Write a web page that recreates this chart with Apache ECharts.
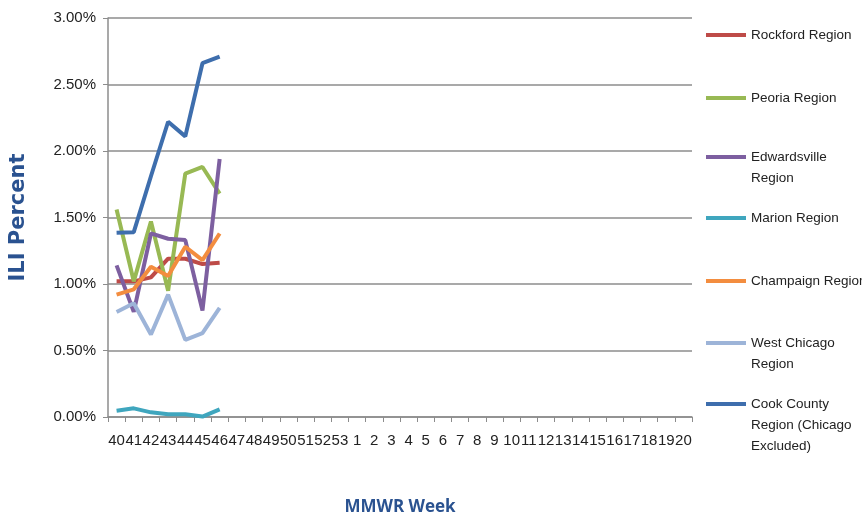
<!DOCTYPE html>
<html>
<head>
<meta charset="utf-8">
<script src="https://cdn.jsdelivr.net/npm/echarts@6/dist/echarts.min.js"></script>
<style>html,body{margin:0;padding:0;background:#fff}#c{width:862px;height:520px}</style>
</head>
<body>
<div id="c"></div>
<script>
const weeks = ['40','41','42','43','44','45','46','47','48','49','50','51','52','53','1','2','3','4','5','6','7','8','9','10','11','12','13','14','15','16','17','18','19','20'];
const rockford     = [1.02, 1.02, 1.05, 1.19, 1.19, 1.15, 1.16];
const peoria       = [1.56, 1.02, 1.47, 0.95, 1.83, 1.88, 1.68];
const edwardsville = [1.14, 0.79, 1.38, 1.34, 1.33, 0.80, 1.94];
const marion       = [0.047, 0.065, 0.035, 0.02, 0.02, 0.003, 0.058];
const champaign    = [0.92, 0.96, 1.13, 1.06, 1.28, 1.18, 1.38];
const westChicago  = [0.79, 0.855, 0.62, 0.92, 0.58, 0.63, 0.82];
const cookCounty   = [1.385, 1.39, 1.81, 2.22, 2.11, 2.66, 2.71];
const yTicks = ['0.00%','0.50%','1.00%','1.50%','2.00%','2.50%','3.00%'];

const seriesDefs = [
  {name:'Rockford Region', label:'Rockford Region', data:rockford, color:'#BE4B48', y:35, lines:1},
  {name:'Peoria Region', label:'Peoria Region', data:peoria, color:'#98B954', y:98, lines:1},
  {name:'Edwardsville Region', label:'Edwardsville\nRegion', data:edwardsville, color:'#7D5FA0', y:157, lines:2},
  {name:'Marion Region', label:'Marion Region', data:marion, color:'#3FA6BE', y:218, lines:1},
  {name:'Champaign Region', label:'Champaign Region', data:champaign, color:'#F38D3F', y:281, lines:1},
  {name:'West Chicago Region', label:'West Chicago\nRegion', data:westChicago, color:'#9DB4D8', y:343, lines:2},
  {name:'Cook County Region (Chicago Excluded)', label:'Cook County\nRegion (Chicago\nExcluded)', data:cookCounty, color:'#3E6EAD', y:404, lines:3}
];
const LH = 21;
const FONT = "'Liberation Sans',Arial,sans-serif";

const chart = echarts.init(document.getElementById('c'));
const legends = seriesDefs.map(s => {
  const n = s.lines;
  const blank = '\n'.repeat(n - 1);
  const h = (2 * n - 1) * LH;
  return {
    data: [s.name],
    left: 706,
    top: s.y - h / 2,
    padding: 0,
    icon: 'rect',
    itemWidth: 40,
    itemHeight: 4,
    selectedMode: false,
    formatter: () => blank + s.label,
    textStyle: {fontFamily: FONT, fontSize: 13.5, color: '#222', lineHeight: LH}
  };
});

chart.setOption({
  animation: false,
  backgroundColor: '#fff',
  grid: {left: 108, right: 170, top: 18, bottom: 103, containLabel: false, outerBoundsMode: 'none'},
  legend: legends,
  xAxis: {
    type: 'category',
    data: weeks,
    boundaryGap: true,
    name: 'MMWR Week',
    nameLocation: 'middle',
    nameGap: 82,
    nameTextStyle: {fontFamily: "'Open Sans','DejaVu Sans',sans-serif", fontSize: 17, fontWeight: 'bold', color: '#2A5290'},
    axisLine: {lineStyle: {color: '#8c8c8c', width: 1.5}},
    axisTick: {show: true, length: 5, lineStyle: {color: '#8c8c8c'}},
    axisLabel: {interval: 0, hideOverlap: false, fontFamily: FONT, fontSize: 15, color: '#222', margin: 16}
  },
  yAxis: {
    type: 'value',
    min: 0, max: 3, interval: 0.5,
    name: 'ILI Percent',
    nameLocation: 'middle',
    nameRotate: 90,
    nameGap: 79,
    nameTextStyle: {fontFamily: "'DejaVu Sans',sans-serif", fontSize: 21, fontWeight: 'bold', color: '#2A5290'},
    axisLine: {show: true, lineStyle: {color: '#8c8c8c', width: 1.5}},
    axisTick: {show: true, length: 5, lineStyle: {color: '#8c8c8c'}},
    splitLine: {lineStyle: {color: '#8c8c8c', width: 1.5}},
    axisLabel: {fontFamily: FONT, fontSize: 15, color: '#222', margin: 12,
      formatter: v => yTicks[Math.round(v / 0.5)]}
  },
  series: seriesDefs.map(s => ({
    name: s.name,
    type: 'line',
    data: s.data,
    showSymbol: false,
    symbol: 'none',
    color: s.color,
    lineStyle: {width: 4, color: s.color}
  }))
});
</script>
</body>
</html>
